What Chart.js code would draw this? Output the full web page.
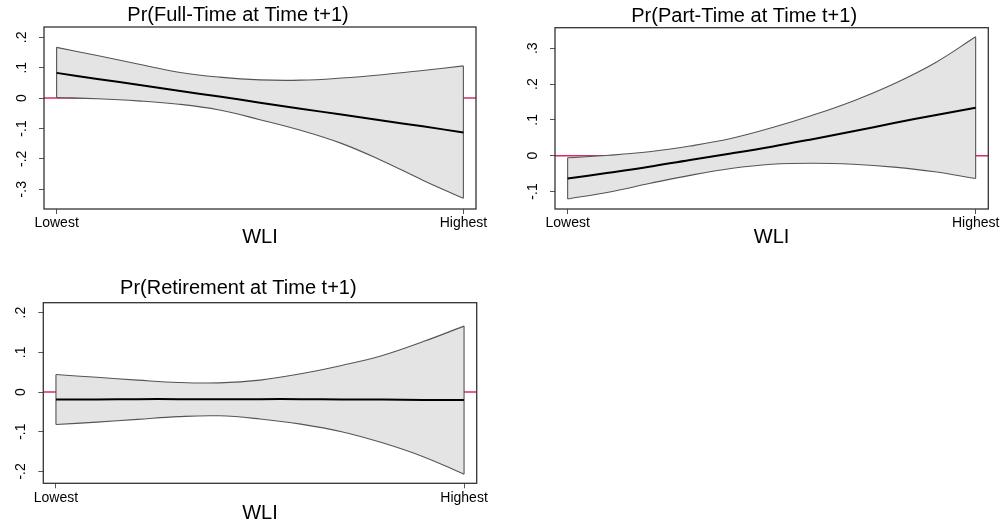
<!DOCTYPE html>
<html>
<head>
<meta charset="utf-8">
<script src="https://cdn.jsdelivr.net/npm/chart.js@4.4.0/dist/chart.umd.min.js"></script>
<style>
  body { margin: 0; background: #fff; width: 1006px; height: 524px; overflow: hidden; position: relative; }
  canvas { position: absolute; }
</style>
</head>
<body>
<canvas id="ft" width="518" height="260" style="left:-18px;top:0"></canvas>
<canvas id="pt" width="506" height="260" style="left:500px;top:0"></canvas>
<canvas id="rt" width="518" height="264" style="left:-18px;top:260px"></canvas>
<script>
// WLI grid, Lowest .. Highest
const wli = [0, 1, 2, 3, 4, 5, 6, 7, 8, 9, 10];
const xTickLabels = ['Lowest', 'Highest'];

// Pr(Full-Time at Time t+1)
const ftMean  = [0.083, 0.063, 0.044, 0.024, 0.005, -0.015, -0.035, -0.054, -0.074, -0.093, -0.113];
const ftUpper = [0.167, 0.140, 0.112, 0.085, 0.069, 0.060, 0.059, 0.066, 0.077, 0.091, 0.106];
const ftLower = [0.002, -0.002, -0.009, -0.020, -0.039, -0.071, -0.106, -0.149, -0.206, -0.270, -0.330];
const ftTicks = [-0.3, -0.2, -0.1, 0, 0.1, 0.2];

// Pr(Part-Time at Time t+1)
const ptMean  = [-0.064, -0.048, -0.031, -0.012, 0.006, 0.025, 0.046, 0.068, 0.091, 0.113, 0.134];
const ptUpper = [-0.006, 0.001, 0.011, 0.027, 0.048, 0.078, 0.113, 0.153, 0.201, 0.259, 0.332];
const ptLower = [-0.121, -0.102, -0.078, -0.055, -0.036, -0.024, -0.021, -0.024, -0.032, -0.045, -0.064];
const ptTicks = [-0.1, 0, 0.1, 0.2, 0.3];

// Pr(Retirement at Time t+1)
const rtMean  = [-0.019, -0.019, -0.018, -0.018, -0.018, -0.018, -0.018, -0.019, -0.019, -0.020, -0.020];
const rtUpper = [0.044, 0.037, 0.030, 0.024, 0.023, 0.030, 0.046, 0.067, 0.092, 0.127, 0.166];
const rtLower = [-0.082, -0.076, -0.069, -0.062, -0.060, -0.068, -0.081, -0.100, -0.128, -0.163, -0.207];
const rtTicks = [-0.2, -0.1, 0, 0.1, 0.2];

const FONT = '"Liberation Sans", Arial, sans-serif';
const xMin = -0.31, xMax = 10.31;
const bandFill = '#e4e4e4';
const bandEdge = '#555';
const zeroColor = '#d42f5c';
const tickColor = '#555';

// stata style labels: .2, -.1, 0
function stataLabel(v) {
    if (Math.abs(v) < 1e-9) return '0';
    return (v < 0 ? '-' : '') + '.' + Math.round(Math.abs(v) * 10);
}

// plot box + rotated y labels
function frame(yTicks) {
    return {
        id: 'frame',
        afterDraw(chart) {
            const { ctx, chartArea: a, scales: { y } } = chart;
            ctx.save();
            ctx.strokeStyle = '#333';
            ctx.lineWidth = 1.3;
            ctx.strokeRect(a.left, a.top, a.right - a.left, a.bottom - a.top);
            ctx.fillStyle = '#000';
            ctx.font = '14px ' + FONT;
            ctx.textAlign = 'center';
            ctx.textBaseline = 'middle';
            yTicks.forEach(v => {
                ctx.save();
                ctx.translate(a.left - 22, y.getPixelForValue(v));
                ctx.rotate(-Math.PI / 2);
                ctx.fillText(stataLabel(v), 0, 0);
                ctx.restore();
            });
            ctx.restore();
        }
    };
}

function panel(id, title, mean, upper, lower, yTicks, yMin, yMax, lay) {
    const pts = arr => wli.map((x, i) => ({ x: x, y: arr[i] }));
    const last = wli.length - 1;
    const curve = { borderColor: bandEdge, borderWidth: 1.1, pointRadius: 0, tension: 0.4 };
    const edge = { borderColor: bandEdge, borderWidth: 1.1, pointRadius: 0 };

    new Chart(document.getElementById(id), {
        type: 'line',
        data: {
            datasets: [
                { data: pts(mean), borderColor: '#000', borderWidth: 2, pointRadius: 0, tension: 0.4 },
                { ...curve, data: pts(lower) },
                { ...edge, data: [{ x: wli[0], y: upper[0] }, { x: wli[0], y: lower[0] }] },
                { ...edge, data: [{ x: wli[last], y: upper[last] }, { x: wli[last], y: lower[last] }] },
                { ...curve, data: pts(upper), fill: 1, backgroundColor: bandFill },
                { data: [{ x: xMin, y: 0 }, { x: xMax, y: 0 }], borderColor: zeroColor, borderWidth: 1.5, pointRadius: 0 }
            ]
        },
        options: {
            responsive: false,
            animation: false,
            events: [],
            layout: { padding: { left: lay.padL, right: lay.padR, top: lay.padT, bottom: lay.padB } },
            plugins: {
                legend: { display: false },
                tooltip: { enabled: false },
                title: {
                    display: true,
                    text: title,
                    color: '#000',
                    font: { family: FONT, size: 20, weight: 'normal', lineHeight: 1 },
                    padding: { top: 0, bottom: lay.titleGap }
                }
            },
            scales: {
                x: {
                    type: 'linear',
                    min: xMin,
                    max: xMax,
                    afterBuildTicks: s => { s.ticks = [{ value: wli[0] }, { value: wli[last] }]; },
                    afterFit: s => { s.height = lay.xH; },
                    ticks: {
                        callback: (v, i) => xTickLabels[i],
                        color: '#000',
                        font: { family: FONT, size: 14 },
                        padding: 1,
                        maxRotation: 0,
                        autoSkip: false
                    },
                    grid: { drawOnChartArea: false, tickLength: 5, tickColor: tickColor, tickWidth: 1 },
                    border: { display: false },
                    title: { display: true, text: 'WLI', color: '#000', font: { family: FONT, size: 20, lineHeight: 1 }, padding: 0 }
                },
                y: {
                    min: yMin,
                    max: yMax,
                    afterBuildTicks: s => { s.ticks = yTicks.map(v => ({ value: v })); },
                    afterFit: s => { s.width = lay.yW; },
                    ticks: { display: false },
                    grid: { drawOnChartArea: false, tickLength: 5, tickColor: tickColor, tickWidth: 1 },
                    border: { display: false }
                }
            }
        },
        plugins: [frame(yTicks)]
    });
}

panel('ft', 'Pr(Full-Time at Time t+1)', ftMean, ftUpper, ftLower, ftTicks, -0.365, 0.234,
    { padL: 18, padR: 24, padT: 5.5, padB: 12.7, titleGap: 1.5, xH: 38.3, yW: 44 });
panel('pt', 'Pr(Part-Time at Time t+1)', ptMean, ptUpper, ptLower, ptTicks, -0.149, 0.3575,
    { padL: 0, padR: 17.7, padT: 6, padB: 12.7, titleGap: 1.7, xH: 38.3, yW: 55 });
panel('rt', 'Pr(Retirement at Time t+1)', rtMean, rtUpper, rtLower, rtTicks, -0.230, 0.225,
    { padL: 18, padR: 23.3, padT: 18.3, padB: 0.7, titleGap: 4.4, xH: 40, yW: 43.3 });
</script>
</body>
</html>
